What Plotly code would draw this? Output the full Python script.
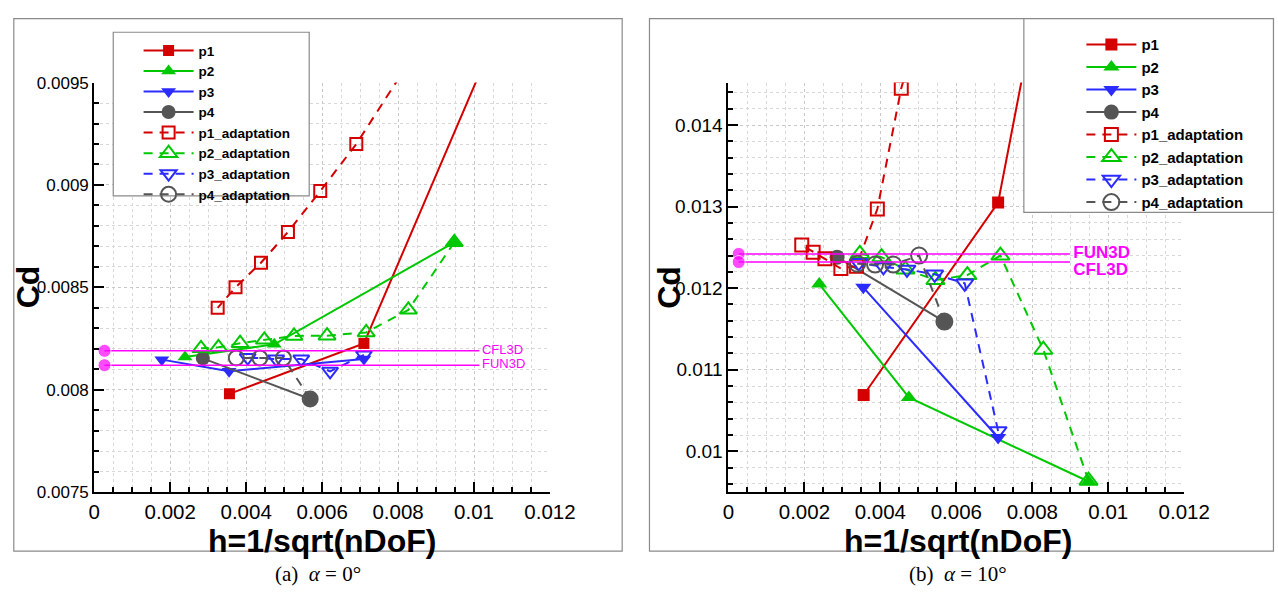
import plotly.graph_objects as go

W, H = 1278, 597

# ---------------- alpha = 0 deg ----------------
a0_p1_h = [0.00356, 0.00710, 0.0142]
a0_p1_cd = [0.00798, 0.008226, 0.0113]
a0_p2_h = [0.00239, 0.00474, 0.00948]
a0_p2_cd = [0.00816, 0.008222, 0.00872]
a0_p3_h = [0.00178, 0.00355, 0.00710]
a0_p3_cd = [0.008147, 0.00809, 0.00815]
a0_p4_h = [0.00286, 0.005685]
a0_p4_cd = [0.008153, 0.007955]

a0_p1a_h = [0.0142, 0.00690, 0.00595, 0.00510, 0.00439, 0.00372, 0.00325]
a0_p1a_cd = [0.0113, 0.00920, 0.00897, 0.00877, 0.00862, 0.00850, 0.00840]
a0_p2a_h = [0.00948, 0.00827, 0.00716, 0.00613, 0.00526, 0.00448, 0.00384, 0.00327, 0.00281]
a0_p2a_cd = [0.00872, 0.00839, 0.00828, 0.008264, 0.008263, 0.008244, 0.008227, 0.008207, 0.008202]
a0_p3a_h = [0.00710, 0.00621, 0.00545, 0.00479, 0.00404]
a0_p3a_cd = [0.00817, 0.00809, 0.00815, 0.00815, 0.008157]
a0_p4a_h = [0.005685, 0.00498, 0.00436, 0.00374]
a0_p4a_cd = [0.007955, 0.008155, 0.008155, 0.008155]

a0_ref_names = ["CFL3D", "FUN3D"]
a0_ref_cd = [0.00819, 0.00812]

# ---------------- alpha = 10 deg ----------------
a10_p1_h = [0.00356, 0.00710, 0.0142]
a10_p1_cd = [0.01069, 0.01305, 0.0302]
a10_p2_h = [0.00239, 0.00475, 0.00948]
a10_p2_cd = [0.01205, 0.01066, 0.00963]
a10_p3_h = [0.00355, 0.00710]
a10_p3_cd = [0.01201, 0.01017]
a10_p4_h = [0.00286, 0.005685]
a10_p4_cd = [0.01238, 0.01159]

a10_p1a_h = [0.0142, 0.00455, 0.00392, 0.00337, 0.00296, 0.00254, 0.00223, 0.00193]
a10_p1a_cd = [0.0302, 0.01445, 0.01297, 0.01227, 0.01224, 0.01236, 0.01244, 0.01253]
a10_p2a_h = [0.00948, 0.00829, 0.00716, 0.00629, 0.00545, 0.00466, 0.00403, 0.00346]
a10_p2a_cd = [0.00964, 0.011245, 0.01240, 0.01216, 0.01210, 0.01223, 0.01238, 0.01242]
a10_p3a_h = [0.00710, 0.00622, 0.00543, 0.00470, 0.00408, 0.00343]
a10_p3a_cd = [0.01025, 0.01206, 0.01217, 0.01223, 0.01226, 0.01231]
a10_p4a_h = [0.005685, 0.00502, 0.00434, 0.00386, 0.00339]
a10_p4a_cd = [0.01159, 0.01240, 0.01229, 0.01229, 0.01230]

a10_ref_names = ["FUN3D", "CFL3D"]
a10_ref_cd = [0.01242, 0.01232]

series_names = ["p1", "p2", "p3", "p4",
                "p1_adaptation", "p2_adaptation", "p3_adaptation", "p4_adaptation"]

RED, GREEN, BLUE, GREY, MAGENTA = "#d40000", "#00c800", "#2b2bff", "#555555", "#ff00ff"
colors = [RED, GREEN, BLUE, GREY] * 2
symbols = ["square", "triangle-up", "triangle-down", "circle",
           "square-open", "triangle-up-open", "triangle-down-open", "circle-open"]

SANS = "Liberation Sans, Arial, Helvetica, sans-serif"
SERIF = "Liberation Serif, Times New Roman, serif"


def px_x(p):
    return p / W


def px_y(p):
    return 1 - p / H


fig = go.Figure()


def add_panel(data, xa, ya, legend, msizes, ref_names, ref_cd, ref_end, ref_font, ref_pos):
    for i, (name, (hx, cd)) in enumerate(zip(series_names, data)):
        dashed = i >= 4
        fig.add_trace(go.Scatter(
            x=hx, y=cd, name=name, mode="lines+markers",
            xaxis=xa, yaxis=ya, legend=legend,
            line=dict(color=colors[i], width=2, dash="9px,7px" if dashed else "solid"),
            marker=dict(symbol=symbols[i], size=msizes[i], color=colors[i],
                        line=dict(color=colors[i], width=2 if dashed else 0)),
        ))
    for nm, v, pos in zip(ref_names, ref_cd, ref_pos):
        fig.add_trace(go.Scatter(
            x=[0.00027, ref_end], y=[v, v], mode="lines+markers+text",
            xaxis=xa, yaxis=ya, showlegend=False, cliponaxis=False,
            line=dict(color=MAGENTA, width=1.5),
            marker=dict(color=MAGENTA, size=[13, 0], symbol="circle"),
            text=["", "\u2009" + nm], textposition=pos, textfont=ref_font,
        ))


add_panel(
    [(a0_p1_h, a0_p1_cd), (a0_p2_h, a0_p2_cd), (a0_p3_h, a0_p3_cd), (a0_p4_h, a0_p4_cd),
     (a0_p1a_h, a0_p1a_cd), (a0_p2a_h, a0_p2a_cd), (a0_p3a_h, a0_p3a_cd), (a0_p4a_h, a0_p4a_cd)],
    "x", "y", "legend", [11, 13, 13, 14, 12, 15, 14, 15],
    a0_ref_names, a0_ref_cd, 0.01014,
    dict(family=SANS, size=13, color=MAGENTA), ["middle right", "middle right"])

add_panel(
    [(a10_p1_h, a10_p1_cd), (a10_p2_h, a10_p2_cd), (a10_p3_h, a10_p3_cd), (a10_p4_h, a10_p4_cd),
     (a10_p1a_h, a10_p1a_cd), (a10_p2a_h, a10_p2a_cd), (a10_p3a_h, a10_p3a_cd), (a10_p4a_h, a10_p4a_cd)],
    "x2", "y2", "legend2", [12, 14, 14, 15, 13, 16, 15, 16],
    a10_ref_names, a10_ref_cd, 0.00899,
    dict(family=SANS, size=17, color=MAGENTA, weight="bold"), ["middle right", "bottom right"])


def axis_common(tick_size):
    return dict(
        ticks="inside", ticklen=10, tickwidth=2, tickcolor="black",
        showline=True, linewidth=2, linecolor="black", mirror=False,
        showgrid=True, gridcolor="#c8c8c8", griddash="dot", gridwidth=1,
        zeroline=False, exponentformat="none",
        tickfont=dict(family=SANS, size=tick_size, color="black"),
    )


def minor(dt):
    return dict(dtick=dt, ticks="inside", ticklen=5, tickwidth=1.5, tickcolor="black",
                showgrid=True, gridcolor="#d8d8d8", griddash="dot")


ybot, ytop = px_y(499), px_y(76)
fig.update_layout(
    width=W, height=H, margin=dict(l=0, r=0, t=0, b=0),
    paper_bgcolor="white", plot_bgcolor="white",
    xaxis=dict(domain=[px_x(90.5), px_x(558)], range=[0, 0.012], tick0=0, dtick=0.002,
               anchor="y", ticklabelstandoff=0, minor=minor(0.0005), **axis_common(20.5)),
    yaxis=dict(domain=[ybot, ytop], range=[0.0075, 0.0095], tick0=0, dtick=0.0005, anchor="x",
               minor=minor(0.0001), **axis_common(17)),
    xaxis2=dict(domain=[px_x(741), px_x(1208.5)], range=[0, 0.012], tick0=0, dtick=0.002,
                anchor="y2", ticklabelstandoff=0, minor=minor(0.0005), **axis_common(20.5)),
    yaxis2=dict(domain=[ybot, ytop], range=[0.0095, 0.01452], tick0=0, dtick=0.001, anchor="x2",
                minor=minor(0.0002), **axis_common(19)),
    legend=dict(x=px_x(136), y=px_y(27), xanchor="left", yanchor="top",
                bgcolor="rgba(0,0,0,0)", borderwidth=0, tracegroupgap=0, itemwidth=50,
                font=dict(family=SANS, size=13.5, color="black", weight="bold")),
    legend2=dict(x=px_x(1103), y=px_y(20), xanchor="left", yanchor="top",
                 bgcolor="rgba(0,0,0,0)", borderwidth=0, tracegroupgap=0, itemwidth=50,
                 font=dict(family=SANS, size=15, color="black", weight="bold")),
)

shapes = [
    # panel frames
    dict(type="rect", xref="paper", yref="paper", x0=px_x(8), x1=px_x(632), y0=px_y(560), y1=px_y(10),
         line=dict(color="#8a8a8a", width=1.2), layer="below"),
    dict(type="rect", xref="paper", yref="paper", x0=px_x(660), x1=px_x(1300), y0=px_y(560), y1=px_y(10),
         line=dict(color="#8a8a8a", width=1.2), layer="below"),
    # legend boxes
    dict(type="rect", xref="paper", yref="paper", x0=px_x(110), x1=px_x(311), y0=px_y(193), y1=px_y(24),
         line=dict(color="#8a8a8a", width=1.2), fillcolor="white", layer="above"),
    dict(type="rect", xref="paper", yref="paper", x0=px_x(1044), x1=px_x(1300), y0=px_y(210), y1=px_y(10),
         line=dict(color="#8a8a8a", width=1.2), fillcolor="white", layer="above"),
]

title_font = dict(family=SANS, size=32, color="black", weight="bold")
caption_font = dict(family=SERIF, size=21, color="black")
annotations = [
    dict(text="h=1/sqrt(nDoF)", x=px_x(324), y=px_y(550), xref="paper", yref="paper",
         showarrow=False, font=title_font, xanchor="center", yanchor="middle"),
    dict(text="h=1/sqrt(nDoF)", x=px_x(976), y=px_y(550), xref="paper", yref="paper",
         showarrow=False, font=title_font, xanchor="center", yanchor="middle"),
    dict(text="Cd", x=px_x(22), y=px_y(287), xref="paper", yref="paper", textangle=-90,
         showarrow=False, font=title_font, xanchor="center", yanchor="middle"),
    dict(text="Cd", x=px_x(680), y=px_y(287), xref="paper", yref="paper", textangle=-90,
         showarrow=False, font=title_font, xanchor="center", yanchor="middle"),
    dict(text="(a)\u2002<i>α</i> = 0°", x=px_x(320), y=px_y(584), xref="paper", yref="paper",
         showarrow=False, font=caption_font, xanchor="center", yanchor="middle"),
    dict(text="(b)\u2002<i>α</i> = 10°", x=px_x(976), y=px_y(584), xref="paper", yref="paper",
         showarrow=False, font=caption_font, xanchor="center", yanchor="middle"),
]

fig.update_layout(shapes=shapes, annotations=annotations)
fig.write_html("out.html")
